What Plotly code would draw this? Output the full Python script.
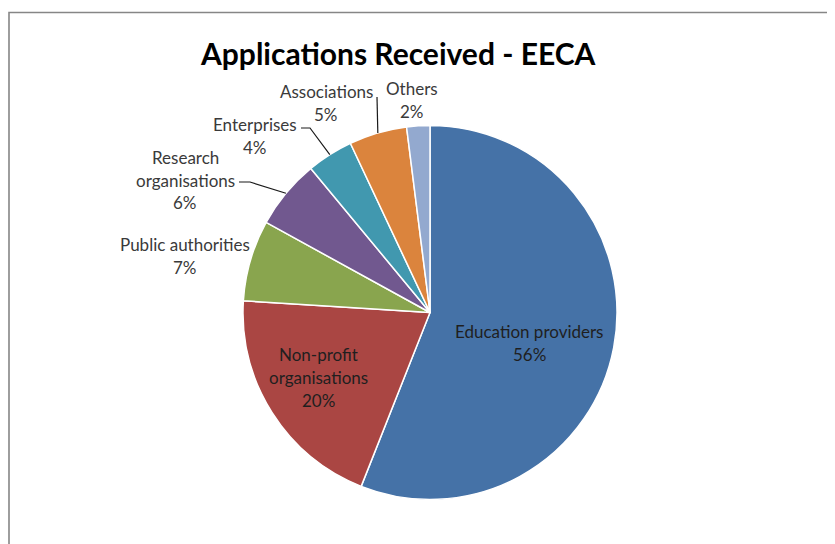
import math
import plotly.graph_objects as go

# ---------------- data ----------------
categories = ["Education providers", "Non-profit organisations", "Public authorities",
              "Research organisations", "Enterprises", "Associations", "Others"]
values = [56, 20, 7, 6, 4, 5, 2]
label_lines = [["Education providers"], ["Non-profit", "organisations"], ["Public authorities"],
               ["Research", "organisations"], ["Enterprises"], ["Associations"], ["Others"]]
title_text = "Applications Received - EECA"

# ---------------- style ----------------
colors = ["#4572A7", "#AA4643", "#89A54E", "#71588F", "#4198AF", "#DB843D", "#93A9CF"]
W, H = 835, 544
OFF = 8  # page body margin
CX, CY, R = 430, 312.5, 187
FONT = "Lato"
FS = 17
LINE_H = 23
# label block centres (pixels) and text colours
label_pos = [(529, 343), (318, 377), (185, 256), (185, 180), (255, 136), (326, 103), (412, 100)]
inside = [True, True, False, False, False, False, False]
# leader line intermediate points (pixels) for slices that have one
leaders = {3: [(250, 182), (239, 182)], 4: [(310, 128), (301, 128)], 5: [(377, 97)]}


def px(x):
    return (x - OFF) / W


def py(y):
    return 1 - (y - OFF) / H


fig = go.Figure()
fig.add_trace(go.Pie(
    labels=categories, values=values, sort=False, direction="clockwise", rotation=0,
    marker=dict(colors=colors, line=dict(color="white", width=1.5)),
    textinfo="none", showlegend=False, hoverinfo="label+percent",
    domain=dict(x=[px(CX - R), px(CX + R)], y=[py(CY + R), py(CY - R)]),
))

total = sum(values)
annotations = []
shapes = []
cum = 0
for i, v in enumerate(values):
    mid = (cum + v / 2) / total * 2 * math.pi
    cum += v
    pct = f"{round(v / total * 100)}%"
    lines = label_lines[i] + [pct]
    bx, by = label_pos[i]
    n = len(lines)
    col = "#1f1f1f" if inside[i] else "#3a3a3a"
    for k, t in enumerate(lines):
        yy = by + (k - (n - 1) / 2) * LINE_H
        annotations.append(dict(x=px(bx), y=py(yy), xref="paper", yref="paper", text=t,
                                showarrow=False, xanchor="center", yanchor="middle",
                                font=dict(family=FONT, size=FS, color=col)))
    if i in leaders:
        ex = CX + R * math.sin(mid)
        ey = CY - R * math.cos(mid)
        pts = [(ex, ey)] + leaders[i]
        path = "M " + " L ".join(f"{px(a)},{py(b)}" for a, b in pts)
        shapes.append(dict(type="path", xref="paper", yref="paper", path=path,
                           line=dict(color="#1a1a1a", width=1.2)))

annotations.append(dict(x=px(398), y=py(53), xref="paper", yref="paper",
                        text=f"<b>{title_text}</b>", showarrow=False,
                        xanchor="center", yanchor="middle",
                        font=dict(family=FONT, size=30, color="#000000")))

# chart frame
shapes.append(dict(type="rect", xref="paper", yref="paper",
                   x0=px(9), x1=1.2, y0=-0.2, y1=py(12.5),
                   line=dict(color="#868686", width=1.6), fillcolor="rgba(0,0,0,0)"))

fig.update_layout(
    width=W, height=H, margin=dict(l=0, r=0, t=0, b=0),
    paper_bgcolor="white", plot_bgcolor="white",
    annotations=annotations, shapes=shapes,
)
fig.write_html("out.html")
